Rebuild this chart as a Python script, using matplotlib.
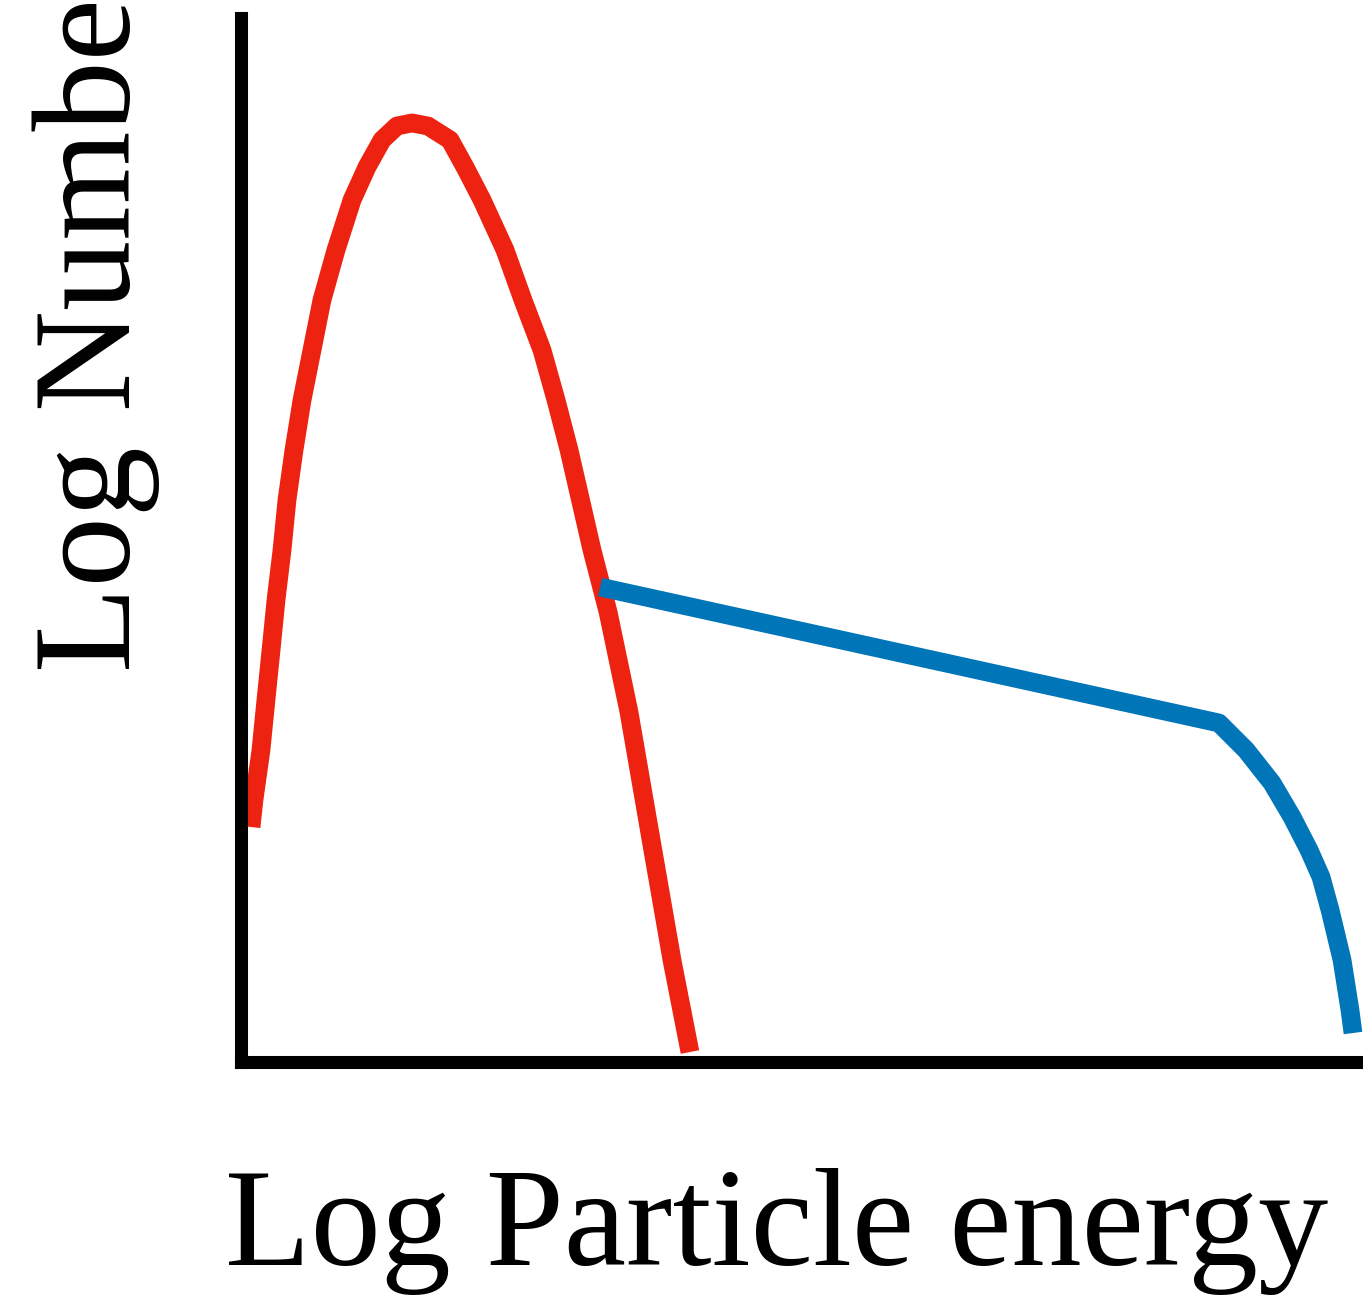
import matplotlib
matplotlib.use("Agg")
import matplotlib.pyplot as plt

# curve readings (arbitrary log units, x and y both 0..10)
thermal_x = [0.093, 0.119, 0.181, 0.225, 0.270, 0.314, 0.367, 0.411, 0.473, 0.544, 0.632,
             0.720, 0.844, 0.986, 1.118, 1.251, 1.383, 1.516, 1.657, 1.852, 1.984, 2.135,
             2.338, 2.497, 2.665, 2.789, 2.904, 3.107, 3.249, 3.434, 3.637, 3.814, 3.973]
thermal_y = [2.247, 2.506, 2.985, 3.464, 3.943, 4.423, 4.902, 5.381, 5.860, 6.339, 6.818,
             7.297, 7.777, 8.256, 8.572, 8.831, 8.965, 8.994, 8.965, 8.831, 8.572, 8.256,
             7.777, 7.297, 6.818, 6.339, 5.860, 4.902, 4.308, 3.349, 2.075, 0.973, 0.091]

power_x = [3.178, 8.649, 8.888, 9.118, 9.295, 9.445, 9.551, 9.631, 9.737, 9.807, 9.834]
power_y = [4.547, 3.244, 2.985, 2.669, 2.343, 2.027, 1.768, 1.452, 0.973, 0.494, 0.273]

xlabel = "Log Particle energy"
ylabel = "Log Number"

W, H = 1363, 1298
fig = plt.figure(figsize=(W / 100, H / 100), dpi=100)
ax = fig.add_axes([240.5 / W, (H - 1061.5) / H, 0.83, 1043.5 / H])

ax.plot(thermal_x, thermal_y, color="#ee2210", lw=13.5, solid_capstyle="butt",
        solid_joinstyle="round")
ax.plot(power_x, power_y, color="#0075b8", lw=13.5, solid_capstyle="butt",
        solid_joinstyle="round")

ax.set_xlim(0, 10)
ax.set_ylim(0, 10)
ax.set_xticks([])
ax.set_yticks([])
for s in ["top", "right"]:
    ax.spines[s].set_visible(False)
for s in ["left", "bottom"]:
    ax.spines[s].set_linewidth(9.4)
    ax.spines[s].set_capstyle("projecting")

fig.text(777 / W, (H - 1265) / H, xlabel, fontsize=101, family="Liberation Serif",
         ha="center", va="baseline")
fig.text(130 / W, (H - 672) / H, ylabel, fontsize=101, family="Liberation Serif",
         rotation=90, rotation_mode="anchor", ha="left", va="baseline")

fig.savefig("out.png", dpi=100)
